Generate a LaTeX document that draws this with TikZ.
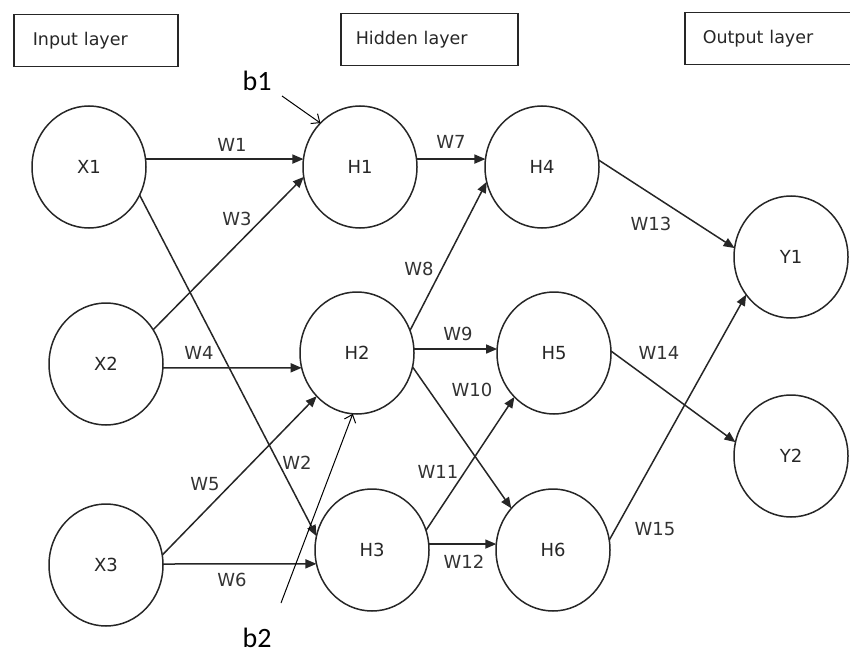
\documentclass[tikz,border=0pt]{standalone}
\usepackage{fontspec}
\setmainfont{DejaVu Sans}
\newfontfamily\biasfont{Carlito}
\usetikzlibrary{shapes.geometric,arrows.meta}

\begin{document}
\begin{tikzpicture}[x=1pt,y=-1pt,
  neuron/.style={ellipse, draw=black!85, line width=1.5pt,
    minimum width=114pt, minimum height=122pt, inner sep=0pt, outer sep=0pt,
    font=\fontsize{18}{20}\selectfont, text=black!85},
  layerbox/.style={draw=black!85, line width=1.5pt, anchor=north west,
    minimum height=52pt, align=left, font=\fontsize{17.5}{20}\selectfont,
    text=black!85},
  wire/.style={line width=1.5pt, draw=black!85,
    -{Triangle[length=11pt,width=9pt]}},
  wlabel/.style={font=\fontsize{18}{20}\selectfont, text=black!80, inner sep=0pt},
  bias/.style={font=\biasfont\fontsize{28}{30}\selectfont, inner sep=0pt},
  biasarrow/.style={line width=1pt, -{Straight Barb[length=7pt,width=12pt]}}]

\useasboundingbox (0,0) rectangle (850,655);
\clip (0,0) rectangle (850,655);

% layer headings
\node[layerbox, inner xsep=19pt, text width=126pt, minimum width=164pt] (lin) at (13,14) {Input layer};
\node[layerbox, inner xsep=15pt, text width=147pt, minimum width=177pt] (lhid) at (340,13) {Hidden layer};
\node[layerbox, inner xsep=18pt, text width=150pt, minimum width=186pt] (lout) at (684,12) {Output layer};

% neurons
\node[neuron] (X1) at (89,167) {X1};
\node[neuron] (X2) at (106,364) {X2};
\node[neuron] (X3) at (106,565) {X3};
\node[neuron] (H1) at (360,167) {H1};
\node[neuron] (H2) at (357,353) {H2};
\node[neuron] (H3) at (372,550) {H3};
\node[neuron] (H4) at (542,167) {H4};
\node[neuron] (H5) at (554,353) {H5};
\node[neuron] (H6) at (553,550) {H6};
\node[neuron] (Y1) at (791,257) {Y1};
\node[neuron] (Y2) at (791,456) {Y2};

% weighted connections
\draw[wire] (X1.8)   -- (H1.172);
\draw[wire] (X1.-29) -- (H3.166);
\draw[wire] (X2.36)  -- (H1.190);
\draw[wire] (X2.-4)  -- (H2.195);
\draw[wire] (X3.10)  -- (H2.227);
\draw[wire] (X3.1)   -- (H3.194);
\draw[wire] (H1.8)   -- (H4.172);
\draw[wire] (H2.23)  -- (H4.195);
\draw[wire] (H2.4)   -- (H5.176);
\draw[wire] (H2.-14) -- (H6.135);
\draw[wire] (H3.20)  -- (H5.228);
\draw[wire] (H3.6)   -- (H6.174);
\draw[wire] (H4.7)   -- (Y1.171);
\draw[wire] (H5.2)   -- (Y2.166);
\draw[wire] (H6.10)  -- (Y1.220);

% weight labels
\node[wlabel] (w1)  at (232,145) {W1};
\node[wlabel] (w2)  at (297,463) {W2};
\node[wlabel] (w3)  at (237,219) {W3};
\node[wlabel] (w4)  at (199,353) {W4};
\node[wlabel] (w5)  at (205,484) {W5};
\node[wlabel] (w6)  at (232,580) {W6};
\node[wlabel] (w7)  at (451,142) {W7};
\node[wlabel] (w8)  at (419,269) {W8};
\node[wlabel] (w9)  at (458,334) {W9};
\node[wlabel] (w10) at (472,390) {W10};
\node[wlabel] (w11) at (438,472) {W11};
\node[wlabel] (w12) at (464,562) {W12};
\node[wlabel] (w13) at (651,224) {W13};
\node[wlabel] (w14) at (659,353) {W14};
\node[wlabel] (w15) at (655,529) {W15};

% biases
\node[bias] (b1) at (257,81) {b1};
\coordinate (b1tail) at (282,96);
\draw[biasarrow] (b1tail) -- (H1.132);
\node[bias] (b2) at (257,638) {b2};
\coordinate (b2tail) at (281,603);
\draw[biasarrow] (b2tail) -- (H2.266);
\end{tikzpicture}
\end{document}
